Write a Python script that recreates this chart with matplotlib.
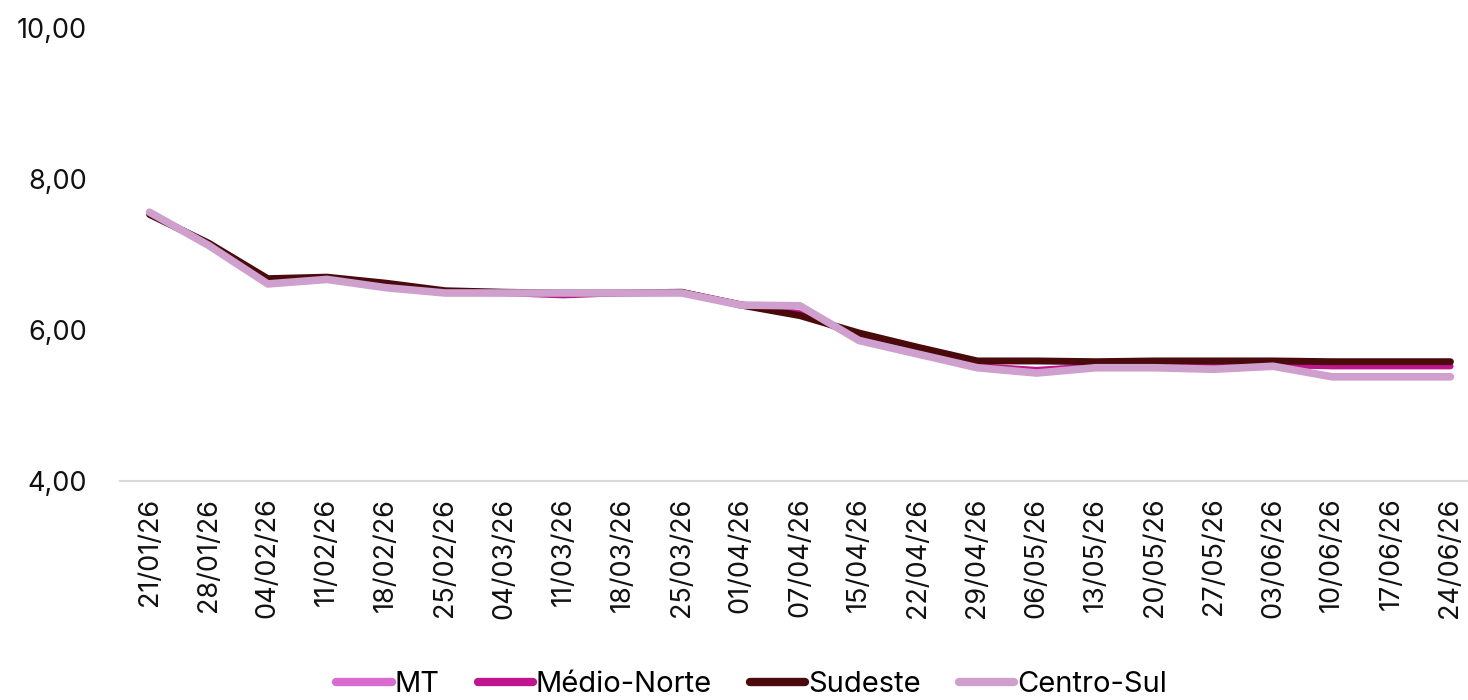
import matplotlib.pyplot as plt
from matplotlib.ticker import FuncFormatter

plt.rcParams['font.family'] = ['Inter', 'DejaVu Sans']

datas = ["21/01/26", "28/01/26", "04/02/26", "11/02/26", "18/02/26", "25/02/26",
         "04/03/26", "11/03/26", "18/03/26", "25/03/26", "01/04/26", "07/04/26",
         "15/04/26", "22/04/26", "29/04/26", "06/05/26", "13/05/26", "20/05/26",
         "27/05/26", "03/06/26", "10/06/26", "17/06/26", "24/06/26"]

mt = [7.55, 7.14, 6.64, 6.69, 6.58, 6.50, 6.49, 6.47, 6.49, 6.50, 6.34, 6.22,
      5.92, 5.72, 5.52, 5.46, 5.51, 5.51, 5.50, 5.52, 5.52, 5.52, 5.52]
medio_norte = [7.55, 7.14, 6.64, 6.69, 6.58, 6.50, 6.49, 6.46, 6.49, 6.50, 6.34, 6.22,
               5.92, 5.72, 5.52, 5.47, 5.52, 5.53, 5.52, 5.54, 5.52, 5.52, 5.52]
sudeste = [7.53, 7.15, 6.68, 6.70, 6.62, 6.52, 6.50, 6.49, 6.49, 6.50, 6.33, 6.19,
           5.96, 5.77, 5.59, 5.59, 5.58, 5.59, 5.59, 5.59, 5.58, 5.58, 5.58]
centro_sul = [7.56, 7.12, 6.61, 6.67, 6.56, 6.49, 6.49, 6.49, 6.49, 6.49, 6.33, 6.32,
              5.86, 5.68, 5.50, 5.43, 5.50, 5.50, 5.48, 5.52, 5.38, 5.38, 5.38]

fig = plt.figure(figsize=(14.68, 7.0), dpi=100)
ax = fig.add_axes([120 / 1468, 219 / 700, 1360 / 1468, 453 / 700])

x = range(len(datas))
ax.plot(x, mt, color="#D96BD0", lw=4, solid_capstyle="round", label="MT")
ax.plot(x, medio_norte, color="#C0158F", lw=4.5, solid_capstyle="round", label="Médio-Norte")
ax.plot(x, sudeste, color="#4A0A0C", lw=5, solid_capstyle="round", label="Sudeste")
ax.plot(x, centro_sul, color="#CFA0CE", lw=5.5, solid_capstyle="round", label="Centro-Sul")

ax.set_ylim(4, 10)
ax.set_yticks([4, 6, 8, 10])
ax.yaxis.set_major_formatter(FuncFormatter(lambda v, p: f"{v:.2f}".replace(".", ",")))
ax.set_xlim(-0.5, len(datas) - 0.5)
ax.set_xticks(list(x))
ax.set_xticklabels(datas, rotation=90)
ax.tick_params(axis="both", length=0, labelsize=19.5, colors="#111111")
ax.tick_params(axis="y", pad=24)
ax.tick_params(axis="x", pad=12)

for s in ["top", "right", "left"]:
    ax.spines[s].set_visible(False)
ax.spines["bottom"].set_color("#D9D9D9")
ax.spines["bottom"].set_linewidth(1.5)

leg = fig.legend(loc="center", bbox_to_anchor=(0.512, 0.022), ncol=4, frameon=False,
                 fontsize=21, handlelength=1.9, handletextpad=0.1, columnspacing=1.3)
for h in leg.get_lines():
    h.set_linewidth(6)
    h.set_solid_capstyle("round")

fig.savefig("out.png", dpi=100)
